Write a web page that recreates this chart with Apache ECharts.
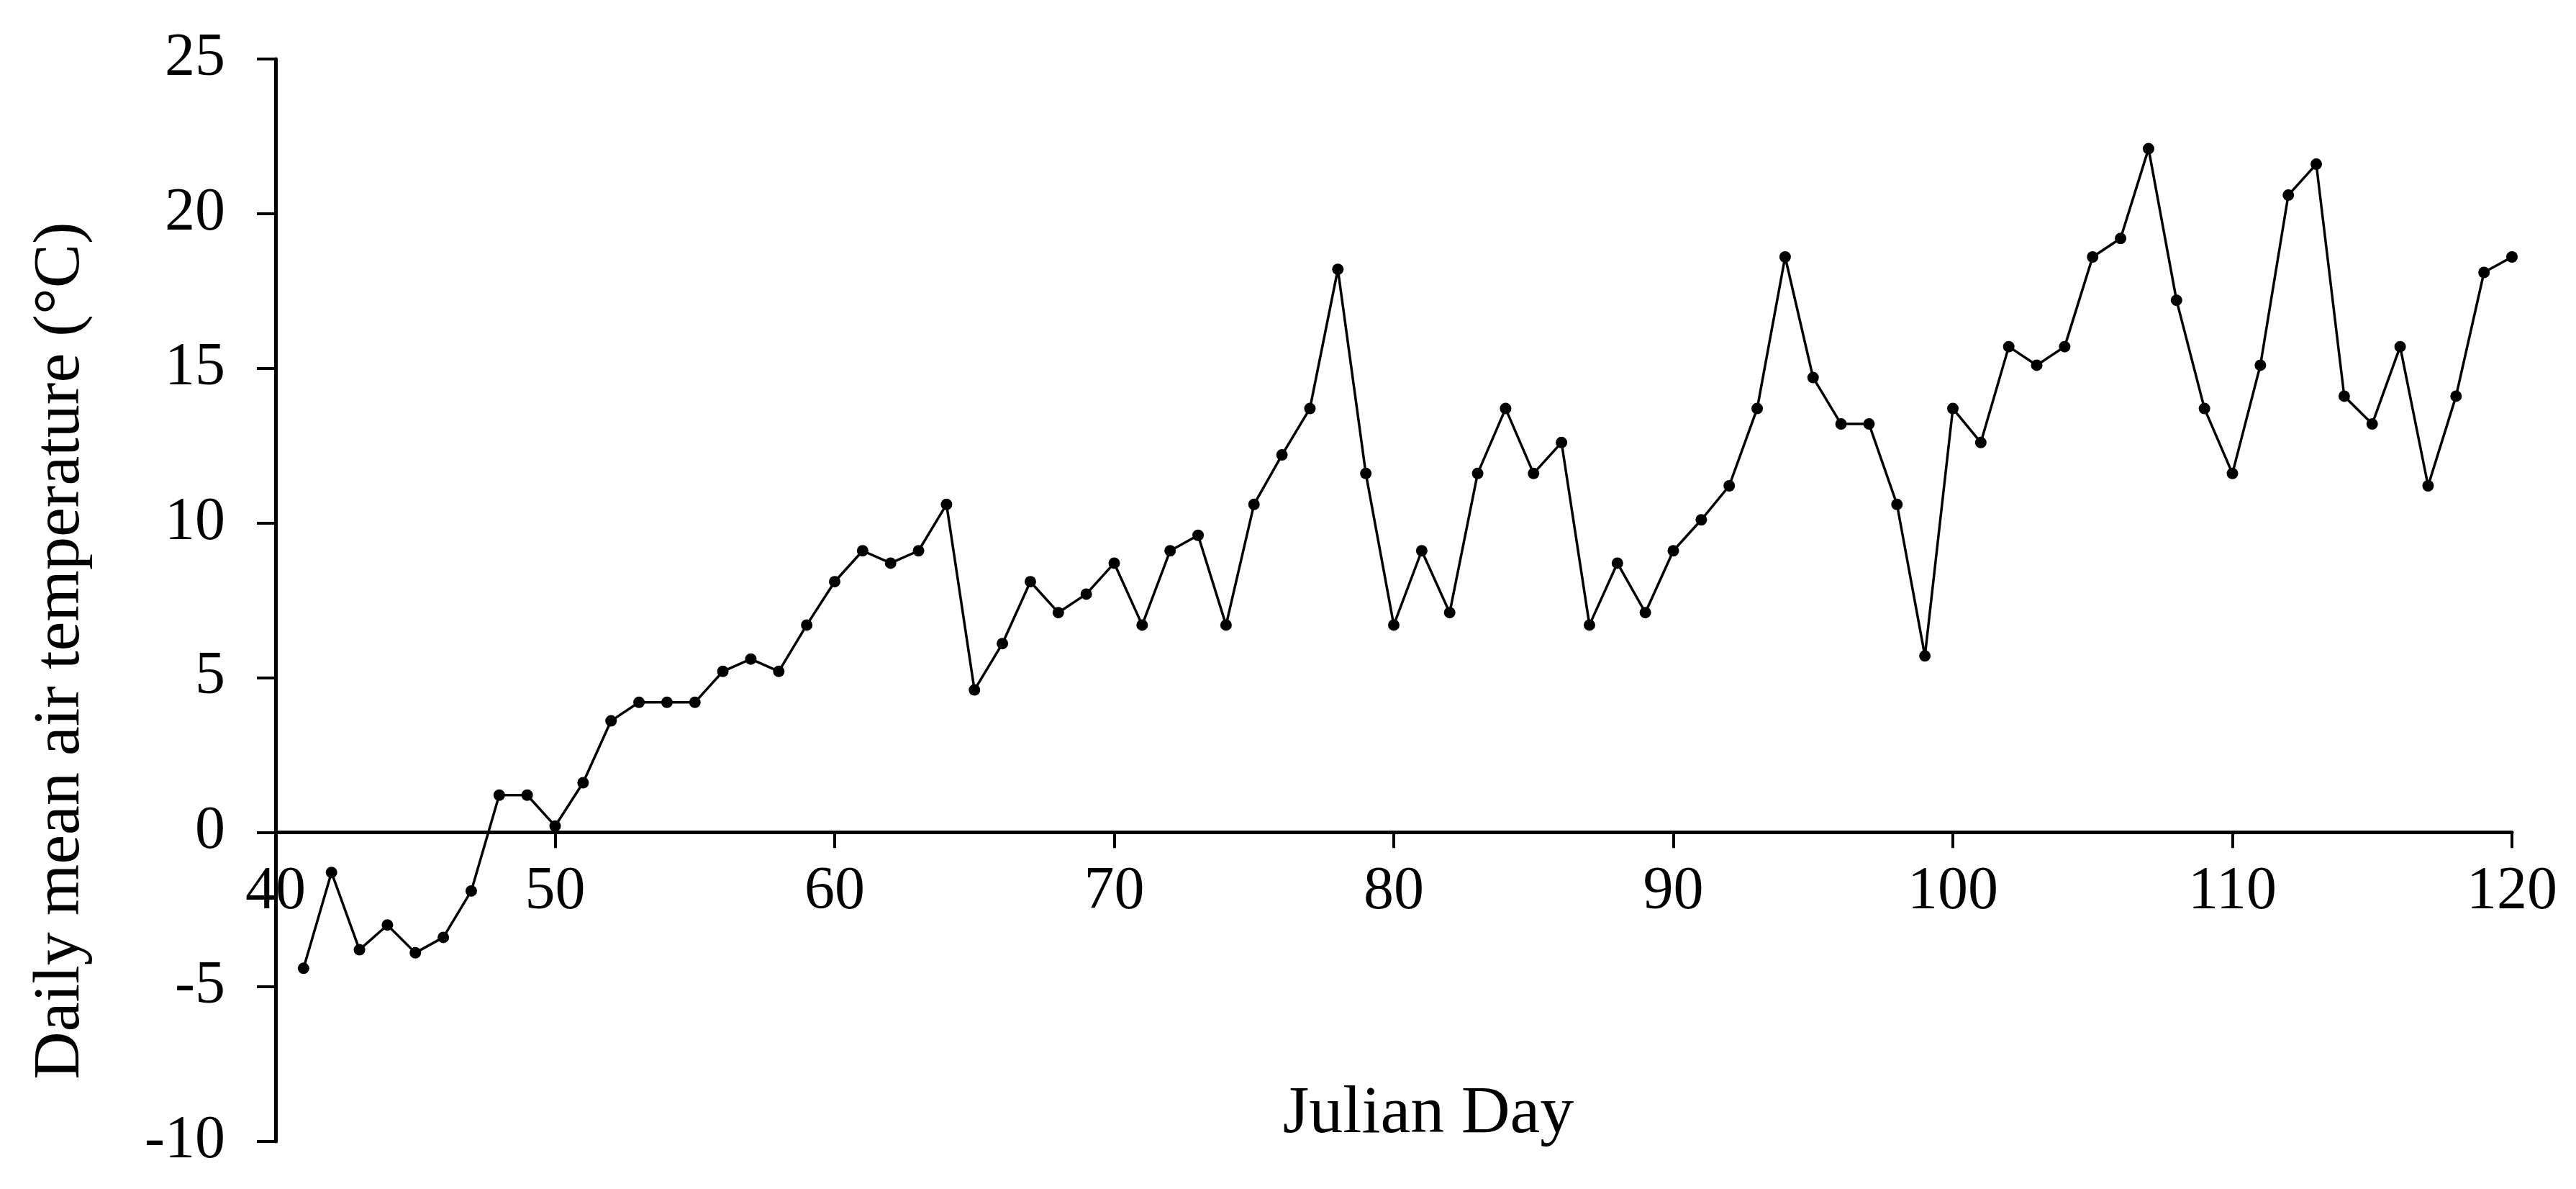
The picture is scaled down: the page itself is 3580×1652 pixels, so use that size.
<!DOCTYPE html>
<html>
<head>
<meta charset="utf-8">
<script src="https://cdn.jsdelivr.net/npm/echarts@6/dist/echarts.min.js"></script>
<style>
html,body{margin:0;padding:0;background:#fff;}
#chart{width:3580px;height:1652px;}
</style>
</head>
<body>
<div id="chart"></div>
<script>
const days = [41,42,43,44,45,46,47,48,49,50,51,52,53,54,55,56,57,58,59,60,
  61,62,63,64,65,66,67,68,69,70,71,72,73,74,75,76,77,78,79,80,
  81,82,83,84,85,86,87,88,89,90,91,92,93,94,95,96,97,98,99,100,
  101,102,103,104,105,106,107,108,109,110,111,112,113,114,115,116,117,118,119,120];
const temps = [-4.4,-1.3,-3.8,-3.0,-3.9,-3.4,-1.9,1.2,1.2,0.2,1.6,3.6,4.2,4.2,4.2,5.2,5.6,5.2,6.7,8.1,
  9.1,8.7,9.1,10.6,4.6,6.1,8.1,7.1,7.7,8.7,6.7,9.1,9.6,6.7,10.6,12.2,13.7,18.2,11.6,6.7,
  9.1,7.1,11.6,13.7,11.6,12.6,6.7,8.7,7.1,9.1,10.1,11.2,13.7,18.6,14.7,13.2,13.2,10.6,5.7,13.7,
  12.6,15.7,15.1,15.7,18.6,19.2,22.1,17.2,13.7,11.6,15.1,20.6,21.6,14.1,13.2,15.7,11.2,14.1,18.1,18.6];
const xAxisTitle = 'Julian Day';
const yAxisTitle = 'Daily mean air temperature (°C)';
const yMin = -10, yMax = 25, yStep = 5;

const seriesData = days.map((d, i) => [d, temps[i]]);
const font = '"Liberation Serif", "Times New Roman", serif';

const H = 1652, gridTop = 82, gridBottom = 66;
const plotH = H - gridTop - gridBottom;
// move the x axis up so that it crosses the y axis at 0
const xAxisOffset = -plotH * (0 - yMin) / (yMax - yMin);

const chart = echarts.init(document.getElementById('chart'), null, {renderer: 'canvas'});
chart.setOption({
  backgroundColor: '#ffffff',
  animation: false,
  grid: {left: 383, right: 89, top: gridTop, bottom: gridBottom, containLabel: false, outerBoundsMode: 'none'},
  xAxis: {
    type: 'value', min: 40, max: 120, interval: 10,
    position: 'bottom', offset: xAxisOffset,
    name: xAxisTitle, nameLocation: 'middle', nameGap: 345,
    nameTextStyle: {fontFamily: font, fontSize: 94, color: '#000', padding: [0, 0, 0, 96]},
    axisLine: {onZero: false, lineStyle: {color: '#000', width: 5}},
    axisTick: {show: true, inside: false, length: 22, lineStyle: {color: '#000', width: 4}},
    axisLabel: {fontFamily: font, fontSize: 84, color: '#000', margin: 42, showMinLabel: true, showMaxLabel: true},
    splitLine: {show: false}
  },
  yAxis: {
    type: 'value', min: yMin, max: yMax, interval: yStep,
    name: yAxisTitle, nameLocation: 'middle', nameGap: 252,
    nameTextStyle: {fontFamily: font, fontSize: 92, color: '#000', padding: [0, 140, 0, 0]},
    axisLine: {onZero: false, lineStyle: {color: '#000', width: 5}},
    axisTick: {show: true, inside: false, length: 26, lineStyle: {color: '#000', width: 4}},
    axisLabel: {fontFamily: font, fontSize: 84, color: '#000', margin: 70},
    splitLine: {show: false}
  },
  series: [{
    type: 'line',
    data: seriesData,
    symbol: 'circle',
    symbolSize: 16,
    showAllSymbol: true,
    lineStyle: {color: '#000', width: 3.5},
    itemStyle: {color: '#000'},
    z: 3
  }]
});
</script>
</body>
</html>
